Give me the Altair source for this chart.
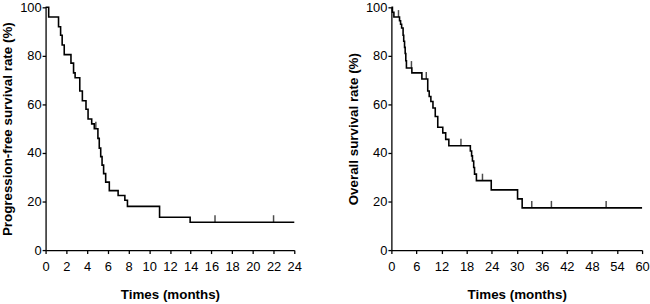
import altair as alt
import pandas as pd

# Progression-free survival (months, %)
pfs_t = [0, 0.3, 1.25, 1.45, 1.6, 1.8, 2.45, 2.7, 2.85, 3.3, 3.55, 3.9, 4.1, 4.45, 4.7,
         5.05, 5.18, 5.32, 5.45, 5.6, 5.8, 6.15, 7.0, 7.65, 7.9, 11.0, 13.95, 24]
pfs_s = [100, 96, 92, 88.5, 84.5, 80.5, 77, 73, 71, 65.5, 61.5, 58, 54, 52, 50,
         46, 42, 38.5, 35, 31.5, 28, 24.5, 22.5, 20.5, 18, 13.5, 11.5, 11.5]
pfs_cens_t = [4.85, 16.35, 22.0]
pfs_cens_s = [50, 11.5, 11.5]

# Overall survival (months, %)
os_t = [0, 0.25, 0.6, 1.95, 2.2, 2.45, 2.8, 2.95, 3.15, 3.3, 3.45, 3.6, 4.9, 7.3,
        8.7, 9.05, 9.45, 9.95, 10.5, 11.1, 12.3, 13.0, 13.75, 18.9, 19.2, 19.4,
        19.7, 19.9, 20.35, 23.9, 30.2, 31.3, 60]
os_s = [100, 98, 96, 94.5, 93, 91.5, 88.5, 86, 83.5, 81, 78, 75, 73, 70.5,
        65.5, 63.3, 61.2, 58.5, 55, 50.6, 48.3, 45.6, 43, 40.8, 38.8, 36.7,
        34, 31.3, 28.6, 24.8, 21.1, 17.4, 17.4]
os_cens_t = [1.7, 4.8, 8.35, 16.65, 21.8, 33.6, 38.3, 51.4]
os_cens_s = [96, 75, 70.5, 43, 28.6, 17.4, 17.4, 17.4]

pfs_ticks = list(range(0, 25, 2))
os_ticks = list(range(0, 61, 6))
y_ticks = [0, 20, 40, 60, 80, 100]

FONT = "Liberation Sans"


def km_panel(t, s, ct, cs, xmax, xticks, ytitle, width):
    curve = pd.DataFrame({"t": t, "s": s})
    cens = pd.DataFrame({"t": ct, "s": cs})
    x = alt.X("t:Q", scale=alt.Scale(domain=[0, xmax], nice=False, zero=True),
              axis=alt.Axis(values=xticks, title="Times (months)", titlePadding=14,
                            labelOverlap=False, labelPadding=7, labelFlush=False,
                            labelBound=False, tickCount=len(xticks)))
    y = alt.Y("s:Q", scale=alt.Scale(domain=[0, 100], nice=False),
              axis=alt.Axis(values=y_ticks, title=ytitle, titlePadding=5,
                            labelOverlap=False, labelPadding=1, labelFlush=False))
    line = alt.Chart(curve).mark_line(interpolate="step-after", color="black",
                                      strokeWidth=1.6).encode(x=x, y=y)
    ticks = alt.Chart(cens).mark_tick(orient="vertical", color="black", size=7,
                                      thickness=1.5, yOffset=-3.5).encode(x=x, y=y)
    return alt.layer(line, ticks).properties(width=width, height=245)


left = km_panel(pfs_t, pfs_s, pfs_cens_t, pfs_cens_s, 24, pfs_ticks,
                "Progression-free survival rate (%)", 251)
right = km_panel(os_t, os_s, os_cens_t, os_cens_s, 60, os_ticks,
                 "Overall survival rate (%)", 253)

chart = alt.hconcat(left, right, spacing=44).properties(
    padding={"left": 0, "top": 0, "right": 0, "bottom": 0}
).configure(font=FONT).configure_view(stroke=None).configure_axis(
    grid=False,
    domainColor="black", domainWidth=1.3,
    tickColor="black", tickWidth=1.3, tickSize=3.5,
    labelColor="black", labelFont=FONT, labelFontSize=13,
    titleColor="black", titleFont=FONT, titleFontSize=13.5, titleFontWeight="bold",
    labelOverlap=False,
)

chart.save("out.html", embed_options={"renderer": "svg", "actions": False})
